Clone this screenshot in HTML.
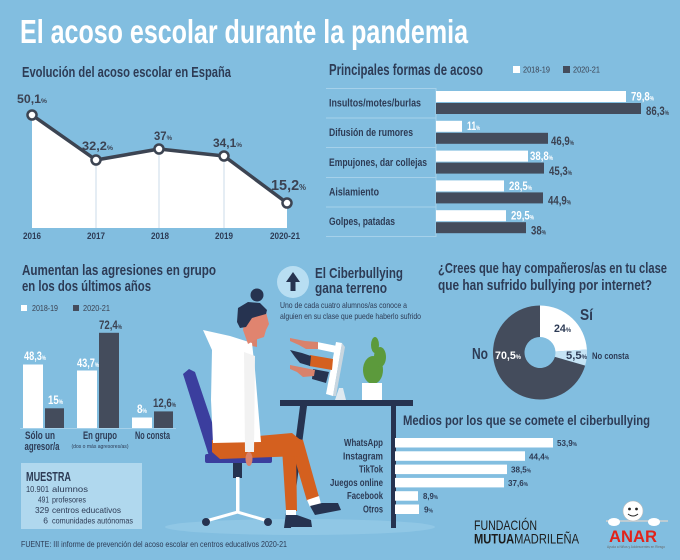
<!DOCTYPE html>
<html><head><meta charset="utf-8">
<style>
html,body{margin:0;padding:0;background:#82bee0;}
svg{display:block;font-family:"Liberation Sans",sans-serif;}
.b{font-weight:bold}
.d{fill:#2d3b55}
.g{fill:#3b4252}
.w{fill:#fff}
</style></head><body>
<svg width="680" height="560" viewBox="0 0 680 560" xmlns="http://www.w3.org/2000/svg">
<rect width="680" height="560" fill="#82bee0"/>

<!-- Title -->
<text x="20" y="43" font-size="33" class="b w" textLength="448" lengthAdjust="spacingAndGlyphs">El acoso escolar durante la pandemia</text>

<!-- Section 1: line chart -->
<text x="22" y="77" font-size="14.5" class="b d" textLength="209" lengthAdjust="spacingAndGlyphs">Evolución del acoso escolar en España</text>
<polygon points="32,115 96,160 159,149 224,156 287,203 287,228 32,228" fill="#fff"/>
<g stroke="#cbdbe8" stroke-width="1">
<line x1="96" y1="163" x2="96" y2="228"/>
<line x1="159" y1="152" x2="159" y2="228"/>
<line x1="224" y1="159" x2="224" y2="228"/>
</g>
<polyline points="32,115 96,160 159,149 224,156 287,203" fill="none" stroke="#3c4452" stroke-width="3.5" stroke-linejoin="round"/>
<g fill="#fff" stroke="#3c4452" stroke-width="2.5">
<circle cx="32" cy="115" r="4.5"/><circle cx="96" cy="160" r="4.5"/><circle cx="159" cy="149" r="4.5"/><circle cx="224" cy="156" r="4.5"/><circle cx="287" cy="203" r="4.5"/>
</g>
<text x="17" y="103" font-size="12" class="b g" textLength="30" lengthAdjust="spacingAndGlyphs">50,1<tspan font-size="6.5">%</tspan></text>
<text x="82" y="150" font-size="12" class="b g" textLength="31" lengthAdjust="spacingAndGlyphs">32,2<tspan font-size="6.5">%</tspan></text>
<text x="154" y="140" font-size="12" class="b g" textLength="18" lengthAdjust="spacingAndGlyphs">37<tspan font-size="6.5">%</tspan></text>
<text x="213" y="147" font-size="12" class="b g" textLength="29" lengthAdjust="spacingAndGlyphs">34,1<tspan font-size="6.5">%</tspan></text>
<text x="271" y="190" font-size="15" class="b g" textLength="35" lengthAdjust="spacingAndGlyphs">15,2<tspan font-size="8">%</tspan></text>
<g font-size="9" class="b d" text-anchor="middle">
<text x="32" y="239" textLength="18" lengthAdjust="spacingAndGlyphs">2016</text>
<text x="96" y="239" textLength="18" lengthAdjust="spacingAndGlyphs">2017</text>
<text x="160" y="239" textLength="18" lengthAdjust="spacingAndGlyphs">2018</text>
<text x="224" y="239" textLength="18" lengthAdjust="spacingAndGlyphs">2019</text>
<text x="285" y="239" textLength="30" lengthAdjust="spacingAndGlyphs">2020-21</text>
</g>

<!-- Section 2: horizontal bars -->
<text x="329" y="75" font-size="15.5" class="b d" textLength="154" lengthAdjust="spacingAndGlyphs">Principales formas de acoso</text>
<rect x="513" y="66" width="7" height="7" fill="#fff"/>
<text x="523" y="72.5" font-size="8.5" class="g" textLength="27" lengthAdjust="spacingAndGlyphs">2018-19</text>
<rect x="563" y="66" width="7" height="7" fill="#444c5c"/>
<text x="573" y="72.5" font-size="8.5" class="g" textLength="27" lengthAdjust="spacingAndGlyphs">2020-21</text>
<g stroke="#a6d1ea" stroke-width="1">
<line x1="326" y1="88.5" x2="436" y2="88.5"/>
<line x1="326" y1="118" x2="436" y2="118"/>
<line x1="326" y1="147.5" x2="436" y2="147.5"/>
<line x1="326" y1="177.5" x2="436" y2="177.5"/>
<line x1="326" y1="207" x2="436" y2="207"/>
<line x1="326" y1="236.5" x2="436" y2="236.5"/>
<line x1="436" y1="88" x2="436" y2="237"/>
</g>
<g fill="#fff">
<rect x="436" y="91" width="190" height="11"/>
<rect x="436" y="120.8" width="26" height="11"/>
<rect x="436" y="150.6" width="92" height="11"/>
<rect x="436" y="180.4" width="68" height="11"/>
<rect x="436" y="210.2" width="70" height="11"/>
</g>
<g fill="#444c5c">
<rect x="436" y="103" width="205" height="11"/>
<rect x="436" y="132.8" width="112" height="11"/>
<rect x="436" y="162.6" width="108" height="11"/>
<rect x="436" y="192.4" width="107" height="11"/>
<rect x="436" y="222.2" width="90" height="11"/>
</g>
<g font-size="11" class="b d">
<text x="329" y="106.5" textLength="92" lengthAdjust="spacingAndGlyphs">Insultos/motes/burlas</text>
<text x="329" y="136" textLength="84" lengthAdjust="spacingAndGlyphs">Difusión de rumores</text>
<text x="329" y="166" textLength="98" lengthAdjust="spacingAndGlyphs">Empujones, dar collejas</text>
<text x="329" y="195.5" textLength="50" lengthAdjust="spacingAndGlyphs">Aislamiento</text>
<text x="329" y="225" textLength="66" lengthAdjust="spacingAndGlyphs">Golpes, patadas</text>
</g>
<g font-size="12" class="b w">
<text x="631" y="100.5" textLength="23" lengthAdjust="spacingAndGlyphs">79,8<tspan font-size="6">%</tspan></text>
<text x="467" y="130" textLength="13" lengthAdjust="spacingAndGlyphs">11<tspan font-size="6">%</tspan></text>
<text x="530" y="160" textLength="23" lengthAdjust="spacingAndGlyphs">38,8<tspan font-size="6">%</tspan></text>
<text x="509" y="190" textLength="23" lengthAdjust="spacingAndGlyphs">28,5<tspan font-size="6">%</tspan></text>
<text x="511" y="219.5" textLength="23" lengthAdjust="spacingAndGlyphs">29,5<tspan font-size="6">%</tspan></text>
</g>
<g font-size="12" class="b g">
<text x="646" y="115" textLength="23" lengthAdjust="spacingAndGlyphs">86,3<tspan font-size="6">%</tspan></text>
<text x="551" y="145" textLength="23" lengthAdjust="spacingAndGlyphs">46,9<tspan font-size="6">%</tspan></text>
<text x="549" y="175" textLength="23" lengthAdjust="spacingAndGlyphs">45,3<tspan font-size="6">%</tspan></text>
<text x="548" y="204.5" textLength="23" lengthAdjust="spacingAndGlyphs">44,9<tspan font-size="6">%</tspan></text>
<text x="531" y="234.5" textLength="15" lengthAdjust="spacingAndGlyphs">38<tspan font-size="6">%</tspan></text>
</g>

<!-- Section 3: grouped vertical bars -->
<text x="22" y="275" font-size="15" class="b d" textLength="194" lengthAdjust="spacingAndGlyphs">Aumentan las agresiones en grupo</text>
<text x="22" y="291" font-size="15" class="b d" textLength="129" lengthAdjust="spacingAndGlyphs">en los dos últimos años</text>
<rect x="21" y="305" width="6" height="6" fill="#fff"/>
<text x="32" y="311" font-size="8.5" class="g" textLength="26" lengthAdjust="spacingAndGlyphs">2018-19</text>
<rect x="73" y="305" width="6" height="6" fill="#444c5c"/>
<text x="83" y="311" font-size="8.5" class="g" textLength="27" lengthAdjust="spacingAndGlyphs">2020-21</text>
<line x1="20" y1="428.5" x2="176" y2="428.5" stroke="#a6d1ea" stroke-width="1"/>
<g fill="#fff">
<rect x="23" y="364.5" width="20" height="63.5"/>
<rect x="77" y="370.5" width="20" height="57.5"/>
<rect x="132" y="417.5" width="20" height="10.5"/>
</g>
<g fill="#444c5c">
<rect x="45" y="408.3" width="19" height="19.7"/>
<rect x="99" y="332.8" width="20" height="95.2"/>
<rect x="154" y="411.4" width="19" height="16.6"/>
</g>
<g font-size="12" class="b w">
<text x="24" y="360" textLength="22" lengthAdjust="spacingAndGlyphs">48,3<tspan font-size="6">%</tspan></text>
<text x="48" y="404" textLength="15" lengthAdjust="spacingAndGlyphs">15<tspan font-size="6">%</tspan></text>
<text x="77" y="367" textLength="22" lengthAdjust="spacingAndGlyphs">43,7<tspan font-size="6">%</tspan></text>
<text x="137" y="413" textLength="10" lengthAdjust="spacingAndGlyphs">8<tspan font-size="6">%</tspan></text>
</g>
<g font-size="12" class="b g">
<text x="99" y="329" textLength="23" lengthAdjust="spacingAndGlyphs">72,4<tspan font-size="6">%</tspan></text>
<text x="153" y="407" textLength="23" lengthAdjust="spacingAndGlyphs">12,6<tspan font-size="6">%</tspan></text>
</g>
<g font-size="11" class="b d" text-anchor="middle">
<text x="40" y="439" textLength="30" lengthAdjust="spacingAndGlyphs">Sólo un</text>
<text x="42" y="450" textLength="35" lengthAdjust="spacingAndGlyphs">agresor/a</text>
<text x="100" y="439" textLength="34" lengthAdjust="spacingAndGlyphs">En grupo</text>
<text x="152.5" y="439" textLength="35" lengthAdjust="spacingAndGlyphs">No consta</text>
</g>
<text x="100" y="448" font-size="5.5" class="d" text-anchor="middle" textLength="57" lengthAdjust="spacingAndGlyphs">(dos o más agresores/as)</text>

<!-- Muestra -->
<rect x="21" y="463" width="121" height="66" fill="#b0d8ee"/>
<text x="26" y="481" font-size="12.5" class="b d" textLength="45" lengthAdjust="spacingAndGlyphs">MUESTRA</text>
<g font-size="8.5" class="d">
<text x="49" y="492" text-anchor="end" textLength="23" lengthAdjust="spacingAndGlyphs">10.901</text>
<text x="52" y="492" textLength="36" lengthAdjust="spacingAndGlyphs">alumnos</text>
<text x="49" y="502.5" text-anchor="end" textLength="11" lengthAdjust="spacingAndGlyphs">491</text>
<text x="52" y="502.5" textLength="34" lengthAdjust="spacingAndGlyphs">profesores</text>
<text x="49" y="513" text-anchor="end" textLength="14" lengthAdjust="spacingAndGlyphs">329</text>
<text x="52" y="513" textLength="69" lengthAdjust="spacingAndGlyphs">centros educativos</text>
<text x="48" y="523.5" text-anchor="end">6</text>
<text x="52" y="523.5" textLength="81" lengthAdjust="spacingAndGlyphs">comunidades autónomas</text>
</g>
<text x="21" y="547" font-size="8.5" class="d" textLength="266" lengthAdjust="spacingAndGlyphs">FUENTE: III informe de prevención del acoso escolar en centros educativos 2020-21</text>

<!-- Illustration -->
<ellipse cx="300" cy="527" rx="135" ry="8" fill="#90c7e5"/>
<!-- desk legs -->
<polygon points="300,406 307,406 291,528 284,528" fill="#263350"/>
<rect x="391" y="405" width="5" height="123" fill="#263350"/>
<!-- chair -->
<polygon points="183,374 189,369 195,372 222,452 209,456" fill="#3b3e9e"/>
<rect x="205" y="454" width="67" height="9" rx="2" fill="#3b3e9e"/>
<rect x="233" y="463" width="9" height="15" fill="#263350"/>
<rect x="236" y="477" width="3.5" height="36" fill="#fff"/>
<polyline points="206,521 237.5,512 268,521" fill="none" stroke="#fff" stroke-width="3"/>
<circle cx="206" cy="522" r="4" fill="#263350"/>
<circle cx="268" cy="522" r="4" fill="#263350"/>
<!-- legs / pants -->
<polygon points="282,448 296,450 297,511 286,511" fill="#d4601f"/>
<polygon points="288,436 303,440 319,497 307,501" fill="#d4601f"/>
<polygon points="212,440 292,433 303,442 300,456 220,459 212,452" fill="#d4601f"/>
<rect x="286" y="510" width="10" height="6" fill="#fff"/>
<polygon points="307,500 319,496 321,504 310,507" fill="#fff"/>
<polygon points="310,506 322,503 338,503 341,510 315,515" fill="#263350"/>
<polygon points="286,515 297,515 311,520 312,527 286,527" fill="#263350"/>
<!-- neck -->
<polygon points="247,332 257,334 257,347 247,345" fill="#d9826c"/>
<!-- body -->
<polygon points="203,330 230,336 252,343 255,370 261,442 213,443 211,400 212,350" fill="#fff"/>
<polygon points="244,352 255,356 254,452 245,452" fill="#f2f2f2"/>
<ellipse cx="249" cy="459" rx="3.5" ry="7" fill="#d9826c"/>
<!-- head -->
<polygon points="245,318 266,312 269,324 266,330 264,337 255,340 248,344 243,330" fill="#e0846f"/>
<polygon points="237,322 238,308 248,302 260,303 267,310 266,314 252,318 246,327 240,328" fill="#263350"/>
<circle cx="257" cy="295" r="6.5" fill="#263350"/>
<!-- desk top -->
<rect x="280" y="400" width="133" height="6" fill="#263350"/>
<!-- monitor -->
<polygon points="339,388 343,388 346,400 335,400" fill="#dfe9f0"/>
<polygon points="336,342 342,343 333,396 326,394" fill="#fff"/>
<polygon points="342,343 345,347 336,396 333,396" fill="#c9d6df"/>
<!-- arms from screen -->
<polygon points="317,342 337,346 336,353 317,349" fill="#fff"/>
<polygon points="290,338 305,341 318,342 318,349 306,349 299,345 290,341" fill="#d9826c"/>
<polygon points="310,355 333,359 332,370 309,366" fill="#d4601f"/>
<polygon points="290,350 302,353 311,356 310,366 300,363 295,357" fill="#263350"/>
<polygon points="313,369 329,372 326,383 312,379" fill="#263350"/>
<polygon points="290,365 305,368 315,370 314,376 303,377 297,372 290,369" fill="#d9826c"/>
<!-- plant -->
<ellipse cx="373" cy="370" rx="10" ry="14" fill="#5c9a3c"/>
<ellipse cx="380" cy="357" rx="6" ry="10" fill="#5c9a3c"/>
<ellipse cx="375" cy="345" rx="4" ry="8" fill="#5c9a3c"/>
<rect x="362" y="383" width="20" height="17" fill="#fff"/>

<!-- Ciberbullying -->
<circle cx="293" cy="282" r="16" fill="#b8def2"/>
<polygon points="293,272 286,282 300,282" fill="#263350"/>
<rect x="290.5" y="281" width="5" height="10" fill="#263350"/>
<text x="315" y="278" font-size="15" class="b d" textLength="88" lengthAdjust="spacingAndGlyphs">El Ciberbullying</text>
<text x="315" y="293" font-size="15" class="b d" textLength="72" lengthAdjust="spacingAndGlyphs">gana terreno</text>
<text x="280" y="308" font-size="8.5" class="d" textLength="127" lengthAdjust="spacingAndGlyphs">Uno de cada cuatro alumnos/as conoce a</text>
<text x="280" y="319" font-size="8.5" class="d" textLength="141" lengthAdjust="spacingAndGlyphs">alguien en su clase que puede haberlo sufrido</text>

<!-- Donut -->
<text x="438" y="273" font-size="15" class="b d" textLength="229" lengthAdjust="spacingAndGlyphs">¿Crees que hay compañeros/as en tu clase</text>
<text x="438" y="290" font-size="15" class="b d" textLength="214" lengthAdjust="spacingAndGlyphs">que han sufrido bullying por internet?</text>
<path d="M540,305.5 A47,47 0 0,1 586.9,349.55 L555.47,351.53 A15.5,15.5 0 0,0 540,337 Z" fill="#fff"/>
<path d="M586.9,349.55 A47,47 0 0,1 585.13,365.61 L554.88,356.82 A15.5,15.5 0 0,0 555.47,351.53 Z" fill="#c5e4f5"/>
<path d="M585.13,365.61 A47,47 0 1,1 540,305.5 L540,337 A15.5,15.5 0 1,0 554.88,356.82 Z" fill="#444c5c"/>
<text x="580" y="320" font-size="16" class="b d" textLength="13" lengthAdjust="spacingAndGlyphs">Sí</text>
<text x="554" y="332" font-size="11" class="b d" textLength="17" lengthAdjust="spacingAndGlyphs">24<tspan font-size="6">%</tspan></text>
<text x="472" y="359" font-size="16" class="b d" textLength="16" lengthAdjust="spacingAndGlyphs">No</text>
<text x="495" y="359" font-size="11" class="b w" textLength="26" lengthAdjust="spacingAndGlyphs">70,5<tspan font-size="6">%</tspan></text>
<text x="566" y="359" font-size="11" class="b d" textLength="21" lengthAdjust="spacingAndGlyphs">5,5<tspan font-size="6">%</tspan></text>
<text x="592" y="359" font-size="9.5" class="b d" textLength="37" lengthAdjust="spacingAndGlyphs">No consta</text>

<!-- Medios -->
<text x="403" y="425" font-size="14" class="b d" textLength="247" lengthAdjust="spacingAndGlyphs">Medios por los que se comete el ciberbullying</text>
<g fill="#fff">
<rect x="395" y="438" width="158" height="9.5"/>
<rect x="395" y="451.3" width="130" height="9.5"/>
<rect x="395" y="464.6" width="112" height="9.5"/>
<rect x="395" y="477.9" width="109" height="9.5"/>
<rect x="395" y="491.2" width="23" height="9.5"/>
<rect x="395" y="504.5" width="24" height="9.5"/>
</g>
<g font-size="10" class="b d" text-anchor="end">
<text x="383" y="446" textLength="39" lengthAdjust="spacingAndGlyphs">WhatsApp</text>
<text x="383" y="459.3" textLength="40" lengthAdjust="spacingAndGlyphs">Instagram</text>
<text x="383" y="472.6" textLength="24" lengthAdjust="spacingAndGlyphs">TikTok</text>
<text x="383" y="485.9" textLength="53" lengthAdjust="spacingAndGlyphs">Juegos online</text>
<text x="383" y="499.2" textLength="36" lengthAdjust="spacingAndGlyphs">Facebook</text>
<text x="383" y="512.5" textLength="20" lengthAdjust="spacingAndGlyphs">Otros</text>
</g>
<g font-size="8.5" class="b d">
<text x="557" y="446" textLength="20" lengthAdjust="spacingAndGlyphs">53,9<tspan font-size="5">%</tspan></text>
<text x="529" y="459.3" textLength="20" lengthAdjust="spacingAndGlyphs">44,4<tspan font-size="5">%</tspan></text>
<text x="511" y="472.6" textLength="20" lengthAdjust="spacingAndGlyphs">38,5<tspan font-size="5">%</tspan></text>
<text x="508" y="485.9" textLength="20" lengthAdjust="spacingAndGlyphs">37,6<tspan font-size="5">%</tspan></text>
<text x="423" y="499.2" textLength="15" lengthAdjust="spacingAndGlyphs">8,9<tspan font-size="5">%</tspan></text>
<text x="424" y="512.5" textLength="9" lengthAdjust="spacingAndGlyphs">9<tspan font-size="5">%</tspan></text>
</g>

<!-- Logos -->
<text x="474" y="530" font-size="14" fill="#1c1c1c" textLength="63" lengthAdjust="spacingAndGlyphs">FUNDACIÓN</text>
<text x="474" y="543.5" font-size="14" fill="#1c1c1c" textLength="105" lengthAdjust="spacingAndGlyphs"><tspan font-weight="bold">MUTUA</tspan>MADRILEÑA</text>
<line x1="606" y1="521" x2="668" y2="521" stroke="#d0d0d0" stroke-width="1.5"/>
<ellipse cx="614" cy="522" rx="6" ry="4" fill="#fff"/>
<ellipse cx="654" cy="522" rx="6" ry="4" fill="#fff"/>
<circle cx="633" cy="511" r="10" fill="#fff" stroke="#bbb" stroke-width="0.6"/>
<circle cx="629.5" cy="509" r="1.4" fill="#222"/>
<circle cx="636.5" cy="509" r="1.4" fill="#222"/>
<path d="M628,514 Q633,518 638,514" fill="none" stroke="#222" stroke-width="1"/>
<text x="609" y="542" font-size="17" font-weight="bold" fill="#e2231a" textLength="48" lengthAdjust="spacingAndGlyphs">ANAR</text>
<text x="607" y="548" font-size="3.5" fill="#6a6a6a" textLength="58" lengthAdjust="spacingAndGlyphs">Ayuda a Niños y Adolescentes en Riesgo</text>
</svg>
</body></html>
